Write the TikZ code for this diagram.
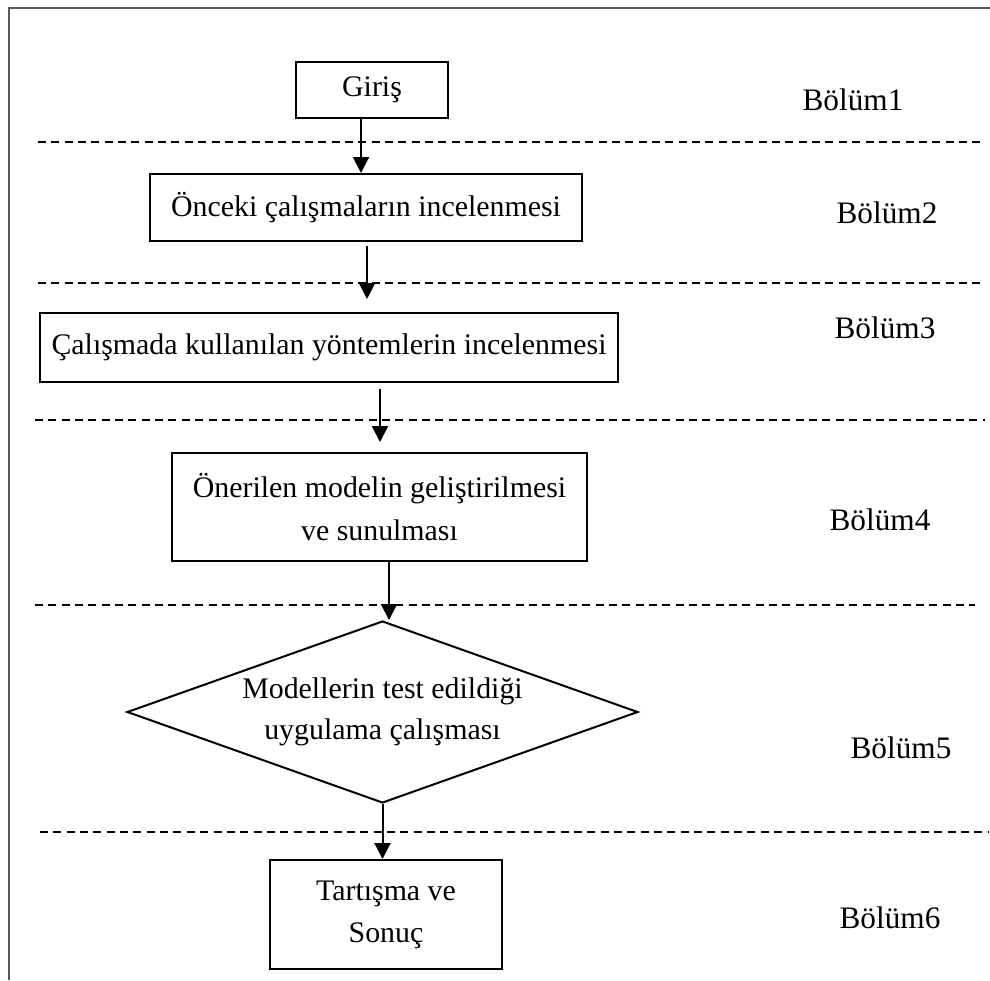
\documentclass[tikz,border=0pt]{standalone}
\usepackage{fontspec}
\setmainfont{Liberation Serif}
\usetikzlibrary{arrows.meta,shapes.geometric}
\tikzset{
	flowbox/.style={shape=rectangle,draw=black,line width=0.04cm,
					align=center,inner sep=0pt,
					font=\fontsize{17pt}{24pt}\selectfont},
	flowdec/.style={shape=diamond,draw=black,line width=0.04cm,
					align=center,inner sep=0pt,aspect=2.8,
					font=\fontsize{17pt}{23pt}\selectfont},
	flow/.style={line width=0.04cm,-{Triangle[length=0.32cm,width=0.32cm]}},
	sepline/.style={line width=0.04cm,dash pattern=on 0.16cm off 0.107cm},
	bolum/.style={inner sep=0pt,font=\fontsize{17.8pt}{24pt}\selectfont}
}

\begin{document}
\begin{tikzpicture}[x=0.02cm,y=-0.02cm]
		\useasboundingbox (0,0) rectangle (990,980);
		% outer frame
		\draw[line width=0.03cm,black!65] (9,980) -- (9,8) -- (990,8);
		% section separators
		\foreach \y/\a/\b in {142/38/985,283/38/985,420/35/985,605/35/975,832/40/988}
			\draw[sepline] (\a,\y) -- (\b,\y);
		% flow
		\draw node(giris)[flowbox,minimum width=3.04cm,minimum height=1.12cm,
						  at={(372,90)}]{Giriş};
		\draw node(onceki)[flowbox,minimum width=8.64cm,minimum height=1.34cm,
						   at={(366,207.5)}]{Önceki çalışmaların incelenmesi};
		\draw node(yontem)[flowbox,minimum width=11.56cm,minimum height=1.38cm,
						   at={(329,347.5)}]{Çalışmada kullanılan yöntemlerin incelenmesi};
		\draw node(model)[flowbox,minimum width=8.3cm,minimum height=2.16cm,
						  at={(379.5,507)}]{Önerilen modelin geliştirilmesi\\ve sunulması};
		\draw node(test)[flowdec,minimum width=10.22cm,minimum height=3.64cm,
						 at={(382.5,712)}]{Modellerin test edildiği\\uygulama çalışması};
		\draw node(sonuc)[flowbox,minimum width=4.64cm,minimum height=2.18cm,
						  at={(386,914.5)}]{Tartışma ve\\Sonuç};
		% arrows
		\coordinate (s1) at (361,118);
		\coordinate (s2) at (367,246);
		\coordinate (s3) at (380,389);
		\coordinate (s4) at (389,560);
		\draw[flow] (s1) -- (s1 |- onceki.north);
		\draw[flow,shorten >=0.26cm] (s2) -- (s2 |- yontem.north);
		\draw[flow,shorten >=0.2cm] (s3) -- (s3 |- model.north);
		\draw[flow] (s4) -- (s4 |- test.north);
		\draw[flow] (test.south) -- (test.south |- sonuc.north);
		% section labels
		\draw node(bolum1)[bolum,at={(853,100)}]{Bölüm1};
		\draw node(bolum2)[bolum,at={(887,213)}]{Bölüm2};
		\draw node(bolum3)[bolum,at={(885,328)}]{Bölüm3};
		\draw node(bolum4)[bolum,at={(880,520)}]{Bölüm4};
		\draw node(bolum5)[bolum,at={(901,748)}]{Bölüm5};
		\draw node(bolum6)[bolum,at={(890,918)}]{Bölüm6};
\end{tikzpicture}
\end{document}
